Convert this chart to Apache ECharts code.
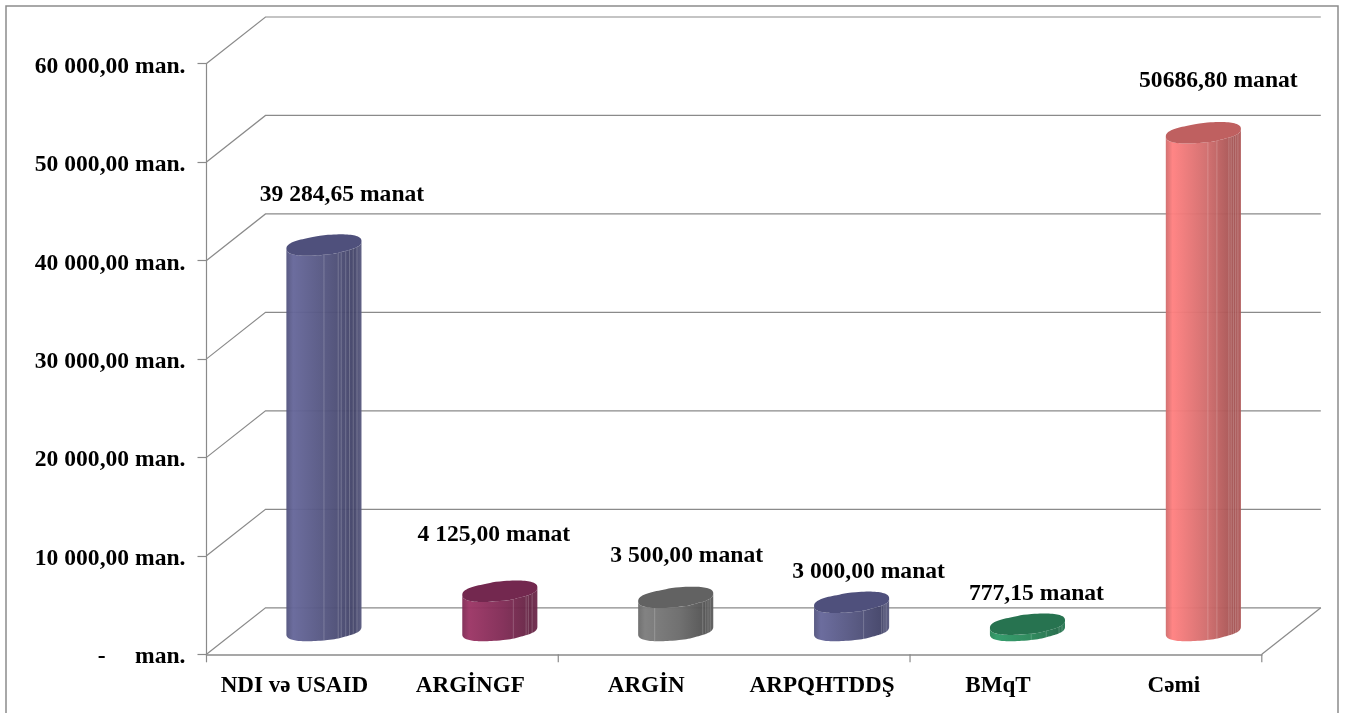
<!DOCTYPE html>
<html><head><meta charset="utf-8">
<style>html,body{margin:0;padding:0;background:#fff}#c{width:1346px;height:713px}</style>
<script src="https://cdn.jsdelivr.net/npm/echarts@6/dist/echarts.min.js"></script>
</head><body><div id="c"></div>
<script>
const categories = ["NDI və USAID","ARGİNGF","ARGİN","ARPQHTDDŞ","BMqT","Cəmi"];
const values = [39284.65,4125,3500,3000,777.15,50686.8];
const valueLabels = ["39 284,65 manat","4 125,00 manat","3 500,00 manat","3 000,00 manat","777,15 manat","50686,80 manat"];
const yTicks = [0,10000,20000,30000,40000,50000,60000];
const yTickLabels = ["-     man.","10 000,00 man.","20 000,00 man.","30 000,00 man.","40 000,00 man.","50 000,00 man.","60 000,00 man."];
const xTickBoundaries = [0,2,4,6];

// styling only
const labelNudge = [[18,-49.5],[-6,-56],[11,-41],[17,-30],[9,-29],[15,-51]];
const palette = [
 {top:'#4f507c',light:'#66679a',mid:'#53547e',dark:'#424368',edge:'#5a5b80'},
 {top:'#73284f',light:'#9c3565',mid:'#802b55',dark:'#652444',edge:'#6f2b4d'},
 {top:'#626262',light:'#7d7d7d',mid:'#6b6b6b',dark:'#515151',edge:'#5e5e5e'},
 {top:'#4f507c',light:'#66679a',mid:'#53547e',dark:'#424368',edge:'#5a5b80'},
 {top:'#277350',light:'#2e9a68',mid:'#298658',dark:'#226b49',edge:'#287a54'},
 {top:'#bf6060',light:'#ff8080',mid:'#d06c6c',dark:'#a45252',edge:'#b05a5a'}
];
const stripes = [
 [.50,.69,.73,.79,.84,.89,.94],
 [.68,.85,.88,.93],
 [.22,.86,.90,.93,.96],
 [.66,.90,.93,.96],
 [.55,.75,.92,.96],
 [.56,.68,.84,.87,.90,.93,.96]
];
const DEPTH_X = 59, DEPTH_Y = 46.5, AXIS = '#8a8a8a', SQUARE = 0.82;
const FONT_SIZE = 23.6;
const FONT = 'bold '+FONT_SIZE+'px "Liberation Serif"';
const spow = (v,p)=>Math.sign(v)*Math.pow(Math.abs(v),p);
const tilt = (u,u0)=>0.86*u+0.14*Math.tanh((u-u0)*8);

function wallItem(params, api){
  const cs = params.coordSys;
  const y = api.coord([0, api.value(1)])[1];
  const x0 = cs.x;
  const pts = [[x0,y],[x0+DEPTH_X,y-DEPTH_Y],[x0+cs.width+DEPTH_X,y-DEPTH_Y]];
  const children = [{type:'polyline',shape:{points:pts},style:{stroke:AXIS,lineWidth:1.2,fill:null}}];
  if(api.value(1)===0){
    children.push({type:'line',shape:{x1:x0+cs.width,y1:y,x2:x0+cs.width+DEPTH_X,y2:y-DEPTH_Y},style:{stroke:AXIS,lineWidth:1.2}});
    xTickBoundaries.forEach(k=>{
      const x = x0+cs.width*k/categories.length;
      children.push({type:'line',shape:{x1:x,y1:y,x2:x,y2:y+8},style:{stroke:AXIS,lineWidth:1.2}});
    });
  }
  return {type:'group',children};
}

function cylinderItem(params, api){
  const i = params.dataIndex;
  const band = api.size([1,0])[0];
  const a = band*0.2135, b = 9.3, s = 3.8;
  const dx = DEPTH_X/2, dy = -DEPTH_Y/2;
  const base = api.coord([i,0]), topP = api.coord([i,api.value(1)]);
  const cx = base[0]+dx, yb = base[1]+dy-0.5, yt = topP[1]+dy+0.8;
  const c = palette[i];
  const ring = (cy,from,to,n)=>{const r=[];for(let k=0;k<=n;k++){const t=from+(to-from)*k/n;
    const u=spow(Math.cos(t),SQUARE), w=spow(Math.sin(t),SQUARE);
    const u0 = w<0 ? -0.25 : 0.42;
    r.push([cx+a*u, cy+b*w-s*tilt(u,u0)]);}return r;};
  const body = ring(yb,Math.PI,0,60).concat(ring(yt,0,Math.PI,60));
  const children = [{
    type:'polygon',shape:{points:body},
    style:{opacity:.96,fill:new echarts.graphic.LinearGradient(0,0,1,0,[
      {offset:0,color:c.mid},{offset:.09,color:c.light},{offset:.55,color:c.mid},
      {offset:.9,color:c.dark},{offset:1,color:c.edge}])}
  }];
  stripes[i].forEach(f=>{
    const u = 2*f-1, w = Math.pow(Math.max(0,1-Math.pow(Math.abs(u),2/SQUARE)),SQUARE/2), x = cx+a*u;
    const off = b*w - s*tilt(u,0.42);
    children.push({type:'line',shape:{x1:x,y1:yt+off,x2:x,y2:yb+off},
      style:{stroke:'rgba(255,255,255,0.2)',lineWidth:1}});
  });
  children.push({type:'polygon',shape:{points:ring(yt,0,Math.PI*2,96)},style:{fill:c.top}});
  children.push({type:'text',x:cx+labelNudge[i][0],y:topP[1]+dy+labelNudge[i][1],
    style:{text:valueLabels[i],font:FONT,fill:'#000',align:'center',verticalAlign:'middle'}});
  return {type:'group',children};
}

const chart = echarts.init(document.getElementById('c'),null,{renderer:'canvas'});
chart.setOption({
  animation:false,
  backgroundColor:'#fff',
  grid:{left:206.5,top:63.5,width:1055.3,height:590.8,containLabel:false},
  graphic:[{type:'polyline',silent:true,z:-1,shape:{points:[[6,713],[6,6],[1338,6],[1338,713]]},
    style:{stroke:'#8c8c8c',lineWidth:1.5,fill:null}}],
  xAxis:{type:'category',data:categories,
    axisLine:{show:true,lineStyle:{color:AXIS,width:1.5}},
    axisTick:{show:false},
    axisLabel:{interval:0,margin:20,color:'#000',fontFamily:'Liberation Serif',fontWeight:'bold',fontSize:23.1,hideOverlap:false}},
  yAxis:{type:'value',min:0,max:60000,interval:10000,
    axisLine:{show:true,lineStyle:{color:AXIS,width:1.2}},
    axisTick:{show:true,length:9,lineStyle:{color:AXIS,width:1.2}},
    splitLine:{show:false},
    axisLabel:{margin:21,color:'#000',
      formatter:v=>'{t|'+yTickLabels[yTicks.indexOf(v)]+'}',
      rich:{t:{color:'#000',fontFamily:'Liberation Serif',fontWeight:'bold',fontSize:FONT_SIZE,padding:[6,0,0,0]}}}},
  series:[
    {type:'custom',z:1,clip:false,silent:true,renderItem:wallItem,encode:{x:0,y:1},
     data:yTicks.map(v=>[0,v])},
    {type:'custom',z:2,clip:false,silent:true,renderItem:cylinderItem,encode:{x:0,y:1},
     data:values.map((v,i)=>[i,v])}
  ]
});
</script></body></html>
